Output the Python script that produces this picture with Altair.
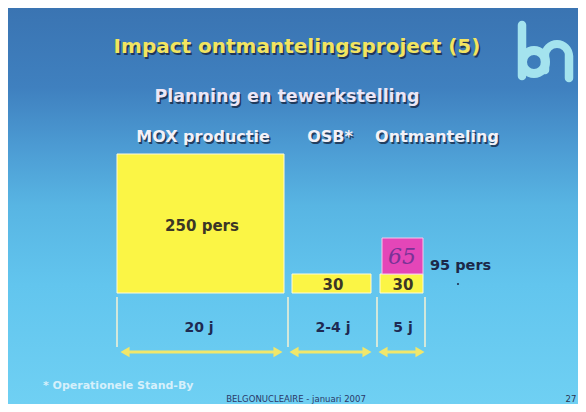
import altair as alt
import pandas as pd

# ---------------- content ----------------
title = ["Impact ontmantelingsproject (5)"]
subtitle = ["Planning en tewerkstelling"]
phases = ["MOX productie", "OSB*", "Ontmanteling"]
durations = ["20 j", "2-4 j", "5 j"]
staff = [250, 30, 30]
staff_labels = ["250 pers", "30", "30"]
extra_staff = [65]
total_label = ["95 pers"]
footnote = ["* Operationele Stand-By"]
footer = ["BELGONUCLEAIRE - januari 2007"]
page_number = ["27"]

# ---------------- layout (canvas units, kept apart from the values) ----------------
W0, W1, H0, H1 = 8, 578, 8, 404
block_x0 = [117, 292, 380]
block_x1 = [284, 371, 423]
block_top = [154, 274, 274]
BASE = 293
label_cx = [202, 333, 403]
label_cy = [226, 285, 285]
header_cx = [203, 330, 437]
HEADER_Y = 142
sep_x = [117, 288, 377, 425]
SEP_Y0, SEP_Y1 = 297, 347
arrow_x0 = [120, 289, 378]
arrow_x1 = [283, 372, 425]
ARROW_Y = 352
dur_cx = [199, 333, 403]
DUR_Y = 332

xs = alt.Scale(domain=[W0, W1], nice=False, zero=False)
ys = alt.Scale(domain=[H0, H1], nice=False, zero=False, reverse=True)


def X(f="x"):
    return alt.X(f"{f}:Q", scale=xs, axis=None)


def Y(f="y"):
    return alt.Y(f"{f}:Q", scale=ys, axis=None)


def text(df, size, color, weight="bold", font="DejaVu Sans", align="center",
         baseline="alphabetic", style="normal", opacity=1.0, dx=0, dy=0):
    return alt.Chart(df).mark_text(
        fontSize=size, color=color, fontWeight=weight, font=font, align=align,
        baseline=baseline, fontStyle=style, opacity=opacity, dx=dx, dy=dy
    ).encode(x=X(), y=Y(), text="t:N")


def shadowed(df, size, color, shadow="#15213a", **kw):
    return [text(df, size, shadow, opacity=0.75, dx=1.5, dy=1.5, **kw),
            text(df, size, color, **kw)]


# background
bg_df = pd.DataFrame({"x": [W0], "x2": [W1], "y": [H0], "y2": [H1]})
grad = alt.LinearGradient(
    gradient="linear",
    stops=[alt.GradientStop(color="#3a74b2", offset=0),
           alt.GradientStop(color="#3f80bf", offset=0.2),
           alt.GradientStop(color="#4c9bd3", offset=0.35),
           alt.GradientStop(color="#58b5e3", offset=0.5),
           alt.GradientStop(color="#62c5ee", offset=0.7),
           alt.GradientStop(color="#6fd0f3", offset=1)],
    x1=0, x2=0, y1=0, y2=1)
background = alt.Chart(bg_df).mark_rect(color=grad).encode(
    x=X(), x2="x2:Q", y=Y(), y2="y2:Q")

# blocks
blocks_df = pd.DataFrame({"phase": phases, "staff": staff,
                          "x": block_x0, "x2": block_x1,
                          "y": block_top, "y2": [BASE] * 3})
blocks = alt.Chart(blocks_df).mark_rect(
    color="#fbf545", stroke="#fffbd8", strokeWidth=1).encode(
    x=X(), x2="x2:Q", y=Y(), y2="y2:Q", tooltip=["phase", "staff"])

pink_df = pd.DataFrame({"staff": extra_staff, "x": [382], "x2": [423],
                        "y": [238], "y2": [274]})
pink = alt.Chart(pink_df).mark_rect(
    color="#e446b8", stroke="#f6c6ea", strokeWidth=1).encode(
    x=X(), x2="x2:Q", y=Y(), y2="y2:Q")

# separators
sep_df = pd.DataFrame({"x": sep_x, "y": [SEP_Y0] * 4, "y2": [SEP_Y1] * 4})
seps = alt.Chart(sep_df).mark_rule(color="#f6f2d4", strokeWidth=1.5).encode(
    x=X(), y=Y(), y2="y2:Q")

# arrows
shaft_df = pd.DataFrame({"x": [a + 5 for a in arrow_x0],
                         "x2": [b - 5 for b in arrow_x1],
                         "y": [ARROW_Y] * 3})
shafts = alt.Chart(shaft_df).mark_rule(color="#f1e76a", strokeWidth=3).encode(
    x=X(), x2="x2:Q", y=Y())
lh_df = pd.DataFrame({"x": [a + 5 for a in arrow_x0], "y": [ARROW_Y] * 3})
rh_df = pd.DataFrame({"x": [b - 5 for b in arrow_x1], "y": [ARROW_Y] * 3})
lheads = alt.Chart(lh_df).mark_point(shape="triangle-left", filled=True,
                                     size=110, color="#f1e76a", opacity=1).encode(x=X(), y=Y())
rheads = alt.Chart(rh_df).mark_point(shape="triangle-right", filled=True,
                                     size=110, color="#f1e76a", opacity=1).encode(x=X(), y=Y())

# logo "bn"
logo_col = "#a4e3ee"
ring_df = pd.DataFrame({"x": [534], "y": [62]})
logo_ring = alt.Chart(ring_df).mark_arc(innerRadius=7, outerRadius=16, theta=0, theta2=6.2832,
                                        color=logo_col).encode(x=X(), y=Y())
arch_df = pd.DataFrame({"x": [557], "y": [56]})
logo_arch = alt.Chart(arch_df).mark_arc(innerRadius=8, outerRadius=16, theta=4.7124, theta2=7.854,
                                        color=logo_col).encode(x=X(), y=Y())
stem_df = pd.DataFrame({"x": [522, 545, 569], "y": [25, 56, 56], "y2": [76, 70, 78]})
logo_stems = alt.Chart(stem_df).mark_rule(color=logo_col, strokeWidth=8.5, strokeCap="round").encode(
    x=X(), y=Y(), y2="y2:Q")

# texts
title_df = pd.DataFrame({"t": title, "x": [297], "y": [53]})
sub_df = pd.DataFrame({"t": subtitle, "x": [287], "y": [102]})
head_df = pd.DataFrame({"t": phases, "x": header_cx, "y": [HEADER_Y] * 3})
lab_df = pd.DataFrame({"t": staff_labels, "x": label_cx, "y": label_cy})
dur_df = pd.DataFrame({"t": durations, "x": dur_cx, "y": [DUR_Y] * 3})
tot_df = pd.DataFrame({"t": total_label, "x": [430], "y": [266]})
hand_df = pd.DataFrame({"t": [str(v) for v in extra_staff], "x": [402], "y": [257]})
foot_df = pd.DataFrame({"t": footnote, "x": [43], "y": [389]})
footer_df = pd.DataFrame({"t": footer, "x": [296], "y": [402]})
page_df = pd.DataFrame({"t": page_number, "x": [571], "y": [402]})

dot_df = pd.DataFrame({"x": [458], "y": [284]})
dot = alt.Chart(dot_df).mark_point(filled=True, size=5, color="#203050", opacity=1).encode(x=X(), y=Y())

layers = [background, blocks, pink, seps, shafts, lheads, rheads,
          logo_ring, logo_arch, logo_stems]
layers += shadowed(title_df, 20, "#f2e460")
layers += shadowed(sub_df, 17.5, "#ece6f6")
layers += shadowed(head_df, 16, "#f3f1f8")
layers += [
    text(lab_df, 15, "#3c3626", baseline="middle"),
    text(dur_df, 14, "#1e2a52"),
    text(tot_df, 14.5, "#1c2848", align="left", baseline="middle"),
    text(hand_df, 22, "#7a3296", weight="normal", font="DejaVu Serif",
         style="italic", baseline="middle"),
    text(foot_df, 11, "#d6f0fb", align="left"),
    text(footer_df, 8.5, "#2a3868", weight="normal"),
    text(page_df, 8.5, "#2a3450", weight="normal"),
    dot,
]

chart = alt.layer(*layers).properties(
    width=W1 - W0, height=H1 - H0, padding=0,
    autosize=alt.AutoSizeParams(type="none"),
    background="transparent",
).configure_view(stroke=None)

chart.save("out.html", embed_options={"renderer": "svg", "actions": False})
